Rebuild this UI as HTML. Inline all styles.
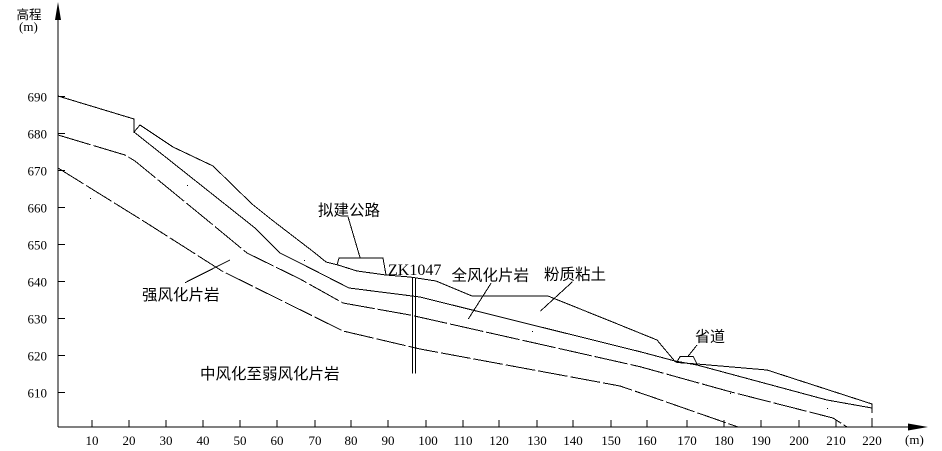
<!DOCTYPE html>
<html>
<head>
<meta charset="utf-8">
<style>
html,body{margin:0;padding:0;background:#fff;}
svg{display:block;}
.t{font-family:"Liberation Serif",serif;font-size:13px;fill:#000;}
.c{font-family:"Liberation Sans","Noto Sans CJK SC",sans-serif;font-size:15.5px;fill:#000;}
</style>
</head>
<body>
<svg width="942" height="451" viewBox="0 0 942 451" xmlns="http://www.w3.org/2000/svg">
<rect width="942" height="451" fill="#fff"/>
<g stroke="#000" stroke-width="1" fill="none" shape-rendering="crispEdges">
  <line x1="58" y1="427" x2="58" y2="12"/>
  <line x1="58" y1="427" x2="912" y2="427"/>
  <line x1="58" y1="96.5" x2="65" y2="96.5"/>
  <line x1="58" y1="133.5" x2="65" y2="133.5"/>
  <line x1="58" y1="170.5" x2="65" y2="170.5"/>
  <line x1="58" y1="207.5" x2="65" y2="207.5"/>
  <line x1="58" y1="244.5" x2="65" y2="244.5"/>
  <line x1="58" y1="281.5" x2="65" y2="281.5"/>
  <line x1="58" y1="318.5" x2="65" y2="318.5"/>
  <line x1="58" y1="355.5" x2="65" y2="355.5"/>
  <line x1="58" y1="392.5" x2="65" y2="392.5"/>
  <line x1="92" y1="420" x2="92" y2="427"/>
  <line x1="129" y1="420" x2="129" y2="427"/>
  <line x1="166" y1="420" x2="166" y2="427"/>
  <line x1="203" y1="420" x2="203" y2="427"/>
  <line x1="240" y1="420" x2="240" y2="427"/>
  <line x1="277" y1="420" x2="277" y2="427"/>
  <line x1="315" y1="420" x2="315" y2="427"/>
  <line x1="351" y1="420" x2="351" y2="427"/>
  <line x1="388" y1="420" x2="388" y2="427"/>
  <line x1="426" y1="420" x2="426" y2="427"/>
  <line x1="463" y1="420" x2="463" y2="427"/>
  <line x1="499" y1="420" x2="499" y2="427"/>
  <line x1="537" y1="420" x2="537" y2="427"/>
  <line x1="573" y1="420" x2="573" y2="427"/>
  <line x1="611" y1="420" x2="611" y2="427"/>
  <line x1="647" y1="420" x2="647" y2="427"/>
  <line x1="687" y1="420" x2="687" y2="427"/>
  <line x1="724" y1="420" x2="724" y2="427"/>
  <line x1="761" y1="420" x2="761" y2="427"/>
  <line x1="799" y1="420" x2="799" y2="427"/>
  <line x1="836" y1="420" x2="836" y2="427"/>
  <line x1="872" y1="420" x2="872" y2="427"/>
</g>
<polygon points="58,2 55,20 61,20" fill="#000"/>
<polygon points="928,427 908,423.5 908,430.5" fill="#000"/>

<g stroke="#000" stroke-width="1" fill="none" shape-rendering="crispEdges" stroke-linejoin="miter">
  <polyline points="58,96 134,119 134,132 140,125 173,147 213,166 252,204 272,220 315,253 326,262 338,265 357,271 386,275 410,277 436,281 472,296 548,296 620,325 657,340 675,361.5 677,362.5 697,364 767,370 872,404 872,413"/>
  <line x1="872" y1="418" x2="872" y2="423"/>
  <polyline points="134,132 255,228 280,253 300,263 349,288 420,297 640,351.7 675,361 697,365 827,400 872,408"/>
  <polyline stroke-dasharray="34 3" points="58,135 125,155 135,161 207,220 247,253 300,279 343,303 410,315 640,366.7 730,391.7 833,418 847,427"/>
  <polyline stroke-dasharray="30 3" points="58,168 145,222 222,271 343,331 420,349 620,386 655,398 738,427"/>
  <polyline points="337,265 339,258 383,258 386,275"/>
  <polyline points="676.7,362.3 680,356.7 693.3,356.7 696.7,363.3"/>
  <line x1="348" y1="216.7" x2="360" y2="257.5"/>
  <line x1="491" y1="283.3" x2="468.3" y2="319"/>
  <line x1="572.5" y1="281.7" x2="540.5" y2="311"/>
  <line x1="185" y1="282.7" x2="230" y2="260"/>
  <line x1="688.3" y1="356" x2="697" y2="345"/>
  <line x1="412.5" y1="277.5" x2="412.5" y2="373.5"/>
  <line x1="415.5" y1="277.5" x2="415.5" y2="373.5"/>
</g>
<g fill="#000">
  <rect x="90" y="198" width="1" height="1"/>
  <rect x="187" y="185" width="1" height="1"/>
  <rect x="304" y="260" width="1" height="1"/>
  <rect x="532" y="331" width="1" height="1"/>
  <rect x="730" y="393" width="1" height="1"/>
  <rect x="827" y="408" width="1" height="1"/>
</g>

<text class="c" x="16.5" y="19" style="font-size:12.5px">高程</text>
<text class="t" x="19" y="31">(m)</text>
<g class="t" text-anchor="end">
  <text x="47" y="101.5">690</text>
  <text x="47" y="138.5">680</text>
  <text x="47" y="175.5">670</text>
  <text x="47" y="212.5">660</text>
  <text x="47" y="249.5">650</text>
  <text x="47" y="286.5">640</text>
  <text x="47" y="323.5">630</text>
  <text x="47" y="360.5">620</text>
  <text x="47" y="397.5">610</text>
</g>
<g class="t" text-anchor="middle">
  <text x="92" y="445">10</text>
  <text x="129" y="445">20</text>
  <text x="166" y="445">30</text>
  <text x="203" y="445">40</text>
  <text x="240" y="445">50</text>
  <text x="277" y="445">60</text>
  <text x="315" y="445">70</text>
  <text x="351" y="445">80</text>
  <text x="388" y="445">90</text>
  <text x="428" y="445">100</text>
  <text x="463" y="445">110</text>
  <text x="499" y="445">120</text>
  <text x="537" y="445">130</text>
  <text x="573" y="445">140</text>
  <text x="611" y="445">150</text>
  <text x="647" y="445">160</text>
  <text x="687" y="445">170</text>
  <text x="724" y="445">180</text>
  <text x="761" y="445">190</text>
  <text x="799" y="445">200</text>
  <text x="836" y="445">210</text>
  <text x="872" y="445">220</text>
</g>
<text class="t" x="905" y="444">(m)</text>

<text class="c" x="142" y="300">强风化片岩</text>
<text class="c" x="200" y="379">中风化至弱风化片岩</text>
<text class="c" x="318" y="215.5">拟建公路</text>
<text class="c" x="451.5" y="280.5">全风化片岩</text>
<text class="c" x="544" y="279.5">粉质粘土</text>
<text class="c" x="695" y="341.5" style="font-size:15px">省道</text>
<text x="388" y="275" style="font-family:'Liberation Serif',serif;font-size:16px;fill:#000">ZK1047</text>
</svg>
</body>
</html>
